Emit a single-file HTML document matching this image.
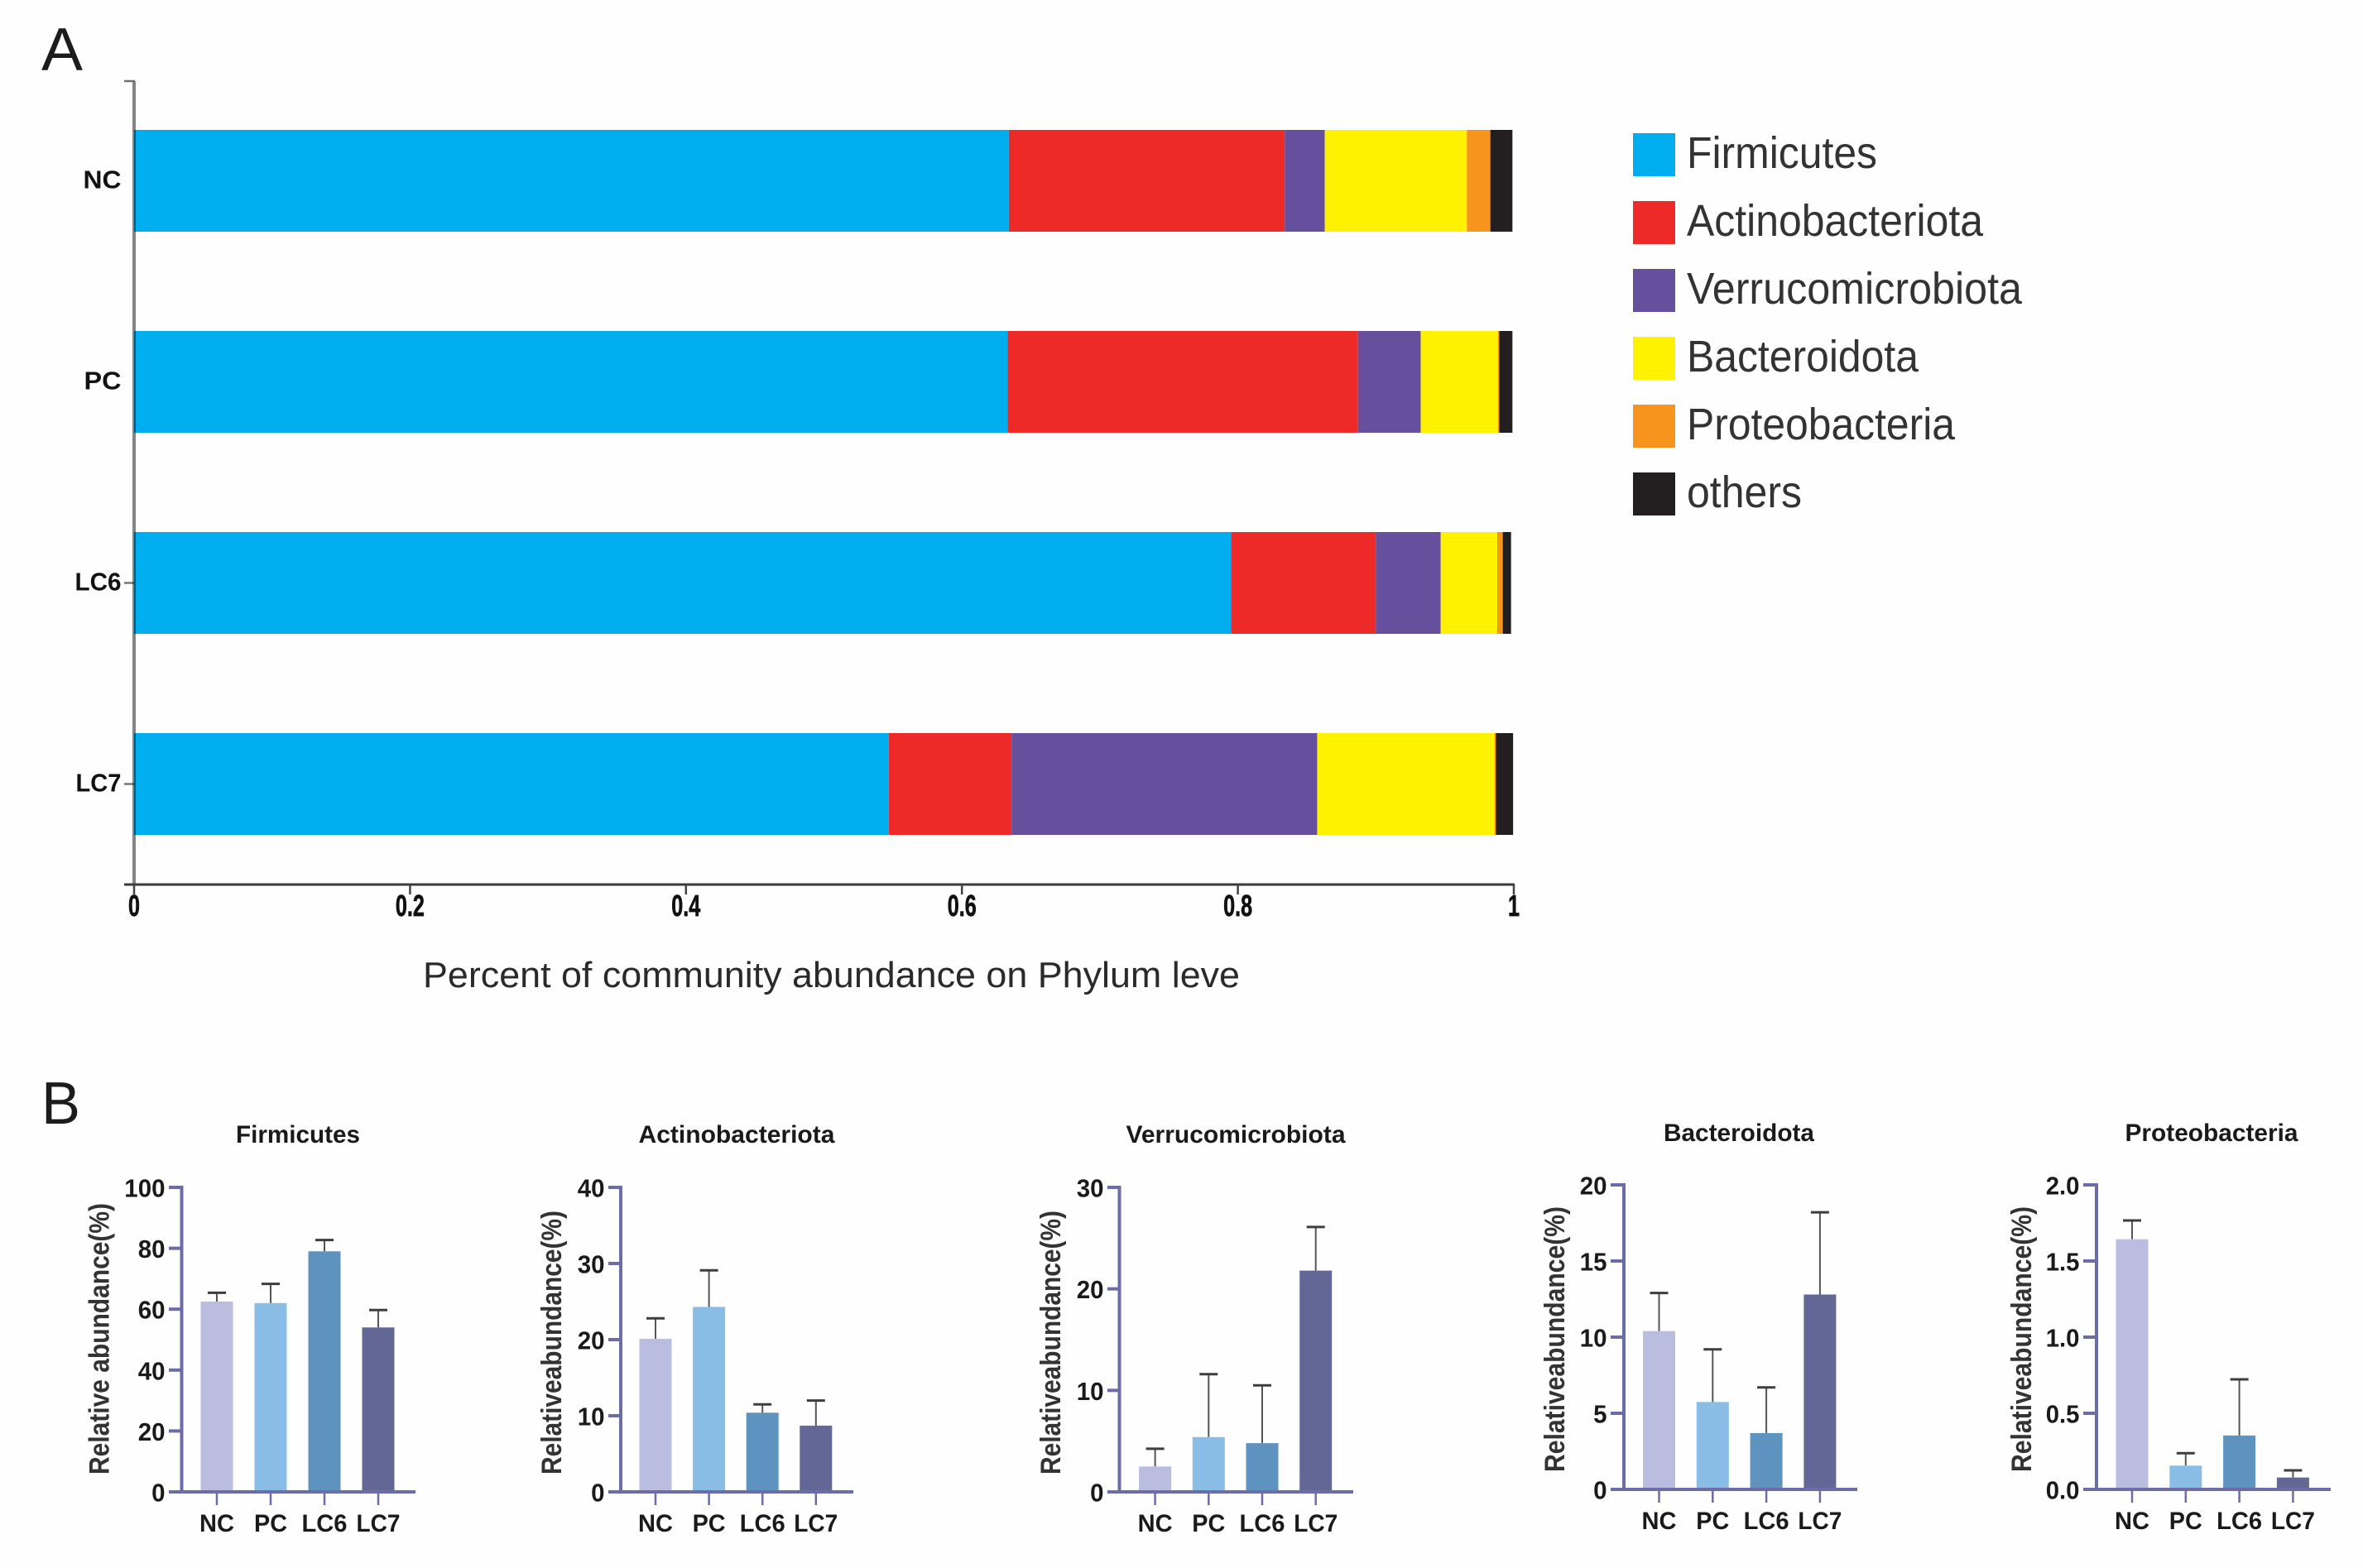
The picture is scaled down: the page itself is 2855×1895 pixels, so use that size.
<!DOCTYPE html>
<html lang="en">
<head>
<meta charset="utf-8">
<title>Community abundance on Phylum level</title>
<style>
  html, body { margin: 0; padding: 0; background: #fefefe; }
  body { width: 2855px; height: 1895px; overflow: hidden; }
  svg { display: block; }
  text { font-family: "Liberation Sans", sans-serif; }
</style>
</head>
<body>
<svg id="figure" xmlns="http://www.w3.org/2000/svg" width="2855" height="1895" viewBox="0 0 2855 1895"></svg>
<script>
// ---------- Panel A data ----------
const groupsA = ['NC', 'PC', 'LC6', 'LC7'];
const phyla = ['Firmicutes', 'Actinobacteriota', 'Verrucomicrobiota', 'Bacteroidota', 'Proteobacteria', 'others'];
const phylumColors = ['#00AEEF', '#EE2A28', '#66509E', '#FFF200', '#F7941D', '#231F20'];
const ncShares = [0.634, 0.200, 0.029, 0.103, 0.017, 0.016];
const pcShares = [0.633, 0.254, 0.0455, 0.056, 0.001, 0.0095];
const lc6Shares = [0.795, 0.105, 0.047, 0.041, 0.004, 0.006];
const lc7Shares = [0.547, 0.089, 0.2215, 0.1285, 0.001, 0.0125];
const xTicksA = [0, 0.2, 0.4, 0.6, 0.8, 1];
const xTickLabelsA = ['0', '0.2', '0.4', '0.6', '0.8', '1'];

// ---------- Panel B data ----------
const groupsB = ['NC', 'PC', 'LC6', 'LC7'];
const firmicutesMeans = [62.5, 62, 79, 54];
const firmicutesErrors = [65.4, 68.3, 82.7, 59.7];
const firmicutesTicks = [0, 20, 40, 60, 80, 100];
const actinoMeans = [20.1, 24.3, 10.4, 8.7];
const actinoErrors = [22.8, 29.1, 11.5, 12.0];
const actinoTicks = [0, 10, 20, 30, 40];
const verrucoMeans = [2.5, 5.4, 4.8, 21.8];
const verrucoErrors = [4.25, 11.6, 10.5, 26.1];
const verrucoTicks = [0, 10, 20, 30];
const bacteroMeans = [10.4, 5.74, 3.7, 12.8];
const bacteroErrors = [12.9, 9.2, 6.7, 18.2];
const bacteroTicks = [0, 5, 10, 15, 20];
const proteoMeans = [1.643, 0.156, 0.354, 0.078];
const proteoErrors = [1.766, 0.238, 0.723, 0.125];
const proteoTicks = [0, 0.5, 1, 1.5, 2];
const barColors = ['#BABDE0', '#8ABDE6', '#5E92BF', '#636796'];

const svg = document.getElementById('figure');
const NS = 'http://www.w3.org/2000/svg';

function shape(tag, attrs, name, parent) {
  const el = document.createElementNS(NS, tag);
  for (const k in attrs) el.setAttribute(k, attrs[k]);
  
  
  (parent || svg).appendChild(el);
  return el;
}
function line(x1, y1, x2, y2, stroke, w, name, parent) {
  return shape('line', { x1: x1, y1: y1, x2: x2, y2: y2, stroke: stroke, 'stroke-width': w }, name, parent);
}
function label(str, x, y, size, opts, name, parent) {
  const o = opts || {};
  const attrs = {
    x: x, y: y, 'font-size': size,
    'font-weight': o.weight || 'normal',
    fill: o.fill || '#1a1a1a',
    'text-anchor': o.anchor || 'start'
  };
  if (o.length) { attrs.textLength = o.length; attrs.lengthAdjust = 'spacingAndGlyphs'; }
  if (o.transform) attrs.transform = o.transform;
  const el = shape('text', attrs, name, parent);
  el.textContent = str;
  return el;
}
function slug(s) { return s.toLowerCase().replace(/[^a-z0-9]+/g, '-'); }
function tickWidth(txt) {
  let w = 0;
  for (const c of txt) w += c === '.' ? 8 : 16.4;
  return w;
}

// ---------- Panel letters ----------
label('A', 50, 85, 73, { fill: '#1c1c1c', length: 50 }, 'panel-a-label');
label('B', 50, 1358, 72, { fill: '#1c1c1c', length: 47 }, 'panel-b-label');

// ---------- Panel A ----------
const plotA = { x0: 162, width: 1667, top: 98, axisY: 1069, firstBarTop: 157, barHeight: 123, rowStep: 243 };
const sharesByGroup = [ncShares, pcShares, lc6Shares, lc7Shares];
const groupLabelWidths = [46, 45, 56, 55];
const xA = v => plotA.x0 + v * plotA.width;
const rowTop = i => plotA.firstBarTop + i * plotA.rowStep;

const gA = shape('g', {}, 'stacked-bar-chart', svg);

groupsA.forEach((g, i) => {
  let cum = 0;
  sharesByGroup[i].forEach((v, s) => {
    const x1 = xA(cum);
    const x2 = xA(cum + v);
    shape('rect', { x: x1, y: rowTop(i), width: Math.max(0, x2 - x1), height: plotA.barHeight, fill: phylumColors[s] },
      'bar-' + slug(g) + '-' + slug(phyla[s]), gA);
    cum += v;
  });
  const cy = rowTop(i) + plotA.barHeight / 2;
  if (i >= 2) line(150, cy, plotA.x0, cy, '#777', 2.5, 'y-tick-' + slug(g), gA);
  label(g, 146.5, cy + 9, 31, { weight: 'bold', anchor: 'end', length: groupLabelWidths[i], fill: '#111' }, 'y-label-' + slug(g), gA);
});

shape('line', { x1: plotA.x0, y1: plotA.top, x2: plotA.x0, y2: plotA.axisY, stroke: '#000', 'stroke-opacity': 0.48, 'stroke-width': 4 }, 'y-axis-line', gA);
line(150, plotA.top, plotA.x0 + 1, plotA.top, '#6f6f6f', 2.5, 'y-axis-top-tick', gA);
line(150, plotA.axisY, xA(1) + 1, plotA.axisY, '#3a3a3a', 3, 'x-axis-line', gA);
xTicksA.forEach((t, i) => {
  line(xA(t), plotA.axisY, xA(t), plotA.axisY + 12, '#444', 2.5, 'x-tick-' + i, gA);
  const tl = label(xTickLabelsA[i], xA(t), 1107, 36, { weight: 'bold', anchor: 'middle', length: xTickLabelsA[i].length === 1 ? 14 : 35, fill: '#111' },
    'x-tick-label-' + i, gA);
  tl.setAttribute('stroke', '#111');
  tl.setAttribute('stroke-width', '0.7');
});
label('Percent of community abundance on Phylum leve', 511, 1193, 44, { fill: '#2a2a2a', length: 987 }, 'x-axis-title', gA);

// ---------- Legend ----------
const legendLayout = { swatchX: 1973, swatchW: 51, swatchH: 52, firstTop: 161, step: 82, textX: 2038 };
const legendTextWidths = [230, 358, 405, 280, 324, 139];
const gLegend = shape('g', {}, 'legend', svg);
phyla.forEach((p, i) => {
  const top = legendLayout.firstTop + i * legendLayout.step;
  shape('rect', { x: legendLayout.swatchX, y: top, width: legendLayout.swatchW, height: legendLayout.swatchH, fill: phylumColors[i] },
    'legend-swatch-' + slug(p), gLegend);
  label(p, legendLayout.textX, top + 42, 54, { fill: '#333', length: legendTextWidths[i] }, 'legend-label-' + slug(p), gLegend);
});

// ---------- Panel B ----------
const groupLabelWidthsB = [42, 40, 55, 53];
const panels = [
  { title: 'Firmicutes', means: firmicutesMeans, errors: firmicutesErrors, ticks: firmicutesTicks, decimals: 0,
    axisX: 219.5, top: 1435, bottom: 1803, axisL: 204, axisR: 502, firstBar: 262, barStep: 65, titleX: 360, titleW: 150, titleY: 1381,
    yTitle: 'Relative abundance(%)', yTitleX: 131.5, yTitleBottom: 1782, yTitleLen: 328 },
  { title: 'Actinobacteriota', means: actinoMeans, errors: actinoErrors, ticks: actinoTicks, decimals: 0,
    axisX: 750, top: 1435, bottom: 1803, axisL: 735, axisR: 1031, firstBar: 792, barStep: 64.6, titleX: 890, titleW: 237, titleY: 1381,
    yTitle: 'Relativeabundance(%)', yTitleX: 678, yTitleBottom: 1782, yTitleLen: 319 },
  { title: 'Verrucomicrobiota', means: verrucoMeans, errors: verrucoErrors, ticks: verrucoTicks, decimals: 0,
    axisX: 1352.5, top: 1435, bottom: 1803, axisL: 1338, axisR: 1635, firstBar: 1395.6, barStep: 64.7, titleX: 1493, titleW: 265, titleY: 1381,
    yTitle: 'Relativeabundance(%)', yTitleX: 1281, yTitleBottom: 1782, yTitleLen: 319 },
  { title: 'Bacteroidota', means: bacteroMeans, errors: bacteroErrors, ticks: bacteroTicks, decimals: 0,
    axisX: 1962, top: 1432, bottom: 1800, axisL: 1946, axisR: 2244, firstBar: 2004.5, barStep: 64.8, titleX: 2101, titleW: 182, titleY: 1379,
    yTitle: 'Relativeabundance(%)', yTitleX: 1890, yTitleBottom: 1779, yTitleLen: 321 },
  { title: 'Proteobacteria', means: proteoMeans, errors: proteoErrors, ticks: proteoTicks, decimals: 1,
    axisX: 2533, top: 1432, bottom: 1800, axisL: 2517, axisR: 2816, firstBar: 2576, barStep: 64.8, titleX: 2672, titleW: 209, titleY: 1379,
    yTitle: 'Relativeabundance(%)', yTitleX: 2454, yTitleBottom: 1779, yTitleLen: 321 }
];
const axisColor = '#6C6CA6';

panels.forEach(p => {
  const key = slug(p.title);
  const g = shape('g', {}, 'bar-panel-' + key, svg);
  const maxV = p.ticks[p.ticks.length - 1];
  const yS = v => p.bottom - (v / maxV) * (p.bottom - p.top);
  const xS = i => p.firstBar + i * p.barStep;

  label(p.title, p.titleX, p.titleY, 30, { weight: 'bold', anchor: 'middle', length: p.titleW }, 'panel-title-' + key, g);
  label(p.yTitle, 0, 0, 34, { weight: 'bold', fill: '#333', length: p.yTitleLen,
    transform: 'translate(' + p.yTitleX + ',' + p.yTitleBottom + ') rotate(-90)' }, 'y-axis-title-' + key, g);

  groupsB.forEach((name, i) => {
    const top = yS(p.means[i]);
    const errTop = yS(p.errors[i]);
    line(xS(i), top, xS(i), errTop, '#555', 2, 'error-line-' + key + '-' + slug(name), g);
    line(xS(i) - 11, errTop, xS(i) + 11, errTop, '#3d3d3d', 3, 'error-cap-' + key + '-' + slug(name), g);
    shape('rect', { x: xS(i) - 19.5, y: top, width: 39, height: p.bottom - top, fill: barColors[i] },
      'bar-' + key + '-' + slug(name), g);
    line(xS(i), p.bottom, xS(i), p.bottom + 16, axisColor, 2.5, 'x-tick-' + key + '-' + slug(name), g);
    label(name, xS(i), p.bottom + 48, 30, { weight: 'bold', anchor: 'middle', length: groupLabelWidthsB[i] }, 'x-label-' + key + '-' + slug(name), g);
  });

  line(p.axisX, p.top - 2, p.axisX, p.bottom + 2, axisColor, 4, 'y-axis-line-' + key, g);
  line(p.axisL, p.bottom, p.axisR, p.bottom, axisColor, 4, 'x-axis-line-' + key, g);
  p.ticks.forEach(t => {
    const txt = t.toFixed(p.decimals);
    line(p.axisL, yS(t), p.axisX, yS(t), axisColor, 4, 'y-tick-' + key + '-' + slug(txt), g);
    label(txt, p.axisL - 4.5, yS(t) + 11.5, 31, { weight: 'bold', anchor: 'end', length: tickWidth(txt) }, 'y-tick-label-' + key + '-' + slug(txt), g);
  });
});
</script>
</body>
</html>
